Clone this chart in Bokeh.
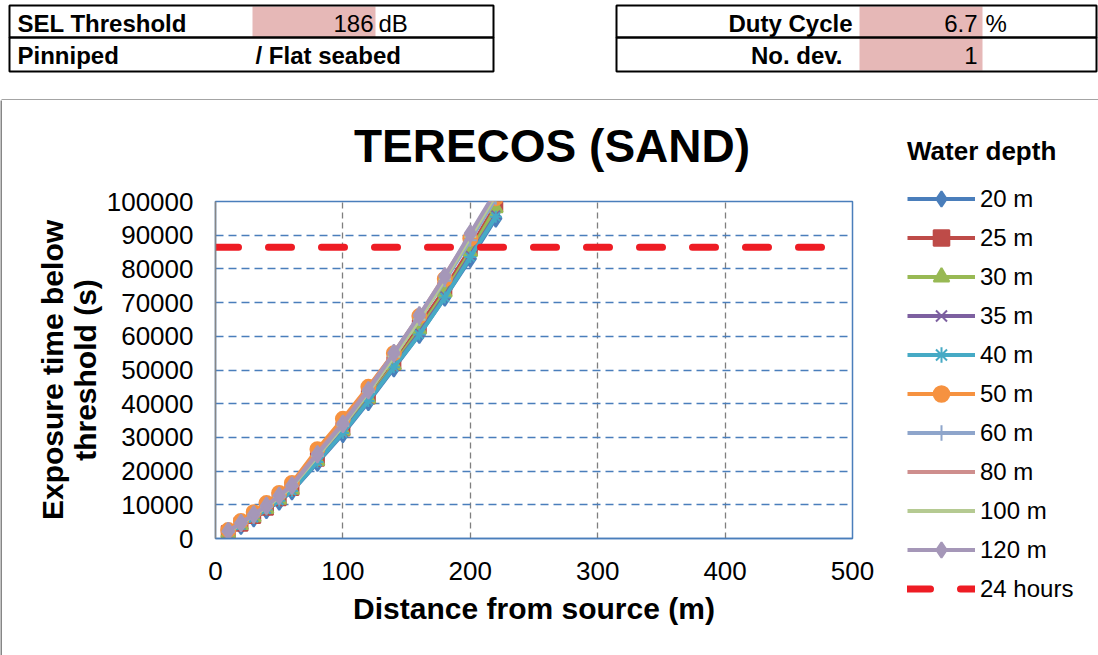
from bokeh.plotting import figure
from bokeh.layouts import column, row
from bokeh.models import (Range1d, FixedTicker, NumeralTickFormatter, Legend, LegendItem)
from bokeh.core.properties import value
from bokeh.embed import file_html
from bokeh.resources import INLINE

# ---------------- data ----------------
distance = [10, 20, 30, 40, 50, 60, 80, 100, 120, 140, 160, 180, 200, 220]

t_20m = [1500, 3800, 6000, 8500, 11000, 14000, 22500, 31000, 40500, 50500, 60500, 71500, 83000, 95000]
t_25m = [1800, 4200, 6500, 9000, 11800, 14800, 23500, 32500, 42000, 52000, 63000, 74000, 86000, 99000]
t_30m = [1700, 4000, 6300, 8800, 11500, 14500, 23000, 32000, 41500, 51500, 62000, 73000, 85000, 98000]
t_35m = [1600, 3900, 6200, 8600, 11200, 14200, 22800, 31500, 41000, 51000, 61000, 72000, 84000, 96000]
t_40m = [1600, 3900, 6100, 8600, 11200, 14100, 22700, 31300, 40800, 50800, 60500, 71500, 83500, 95500]
t_50m = [2500, 5200, 7800, 10500, 13500, 16500, 26500, 35500, 45000, 55000, 66000, 77000, 89000, 101000]
t_60m = [2000, 4500, 7000, 9500, 12500, 15500, 24500, 33500, 43500, 54000, 65000, 76500, 88500, 101000]
t_80m = [2200, 4700, 7200, 9800, 12800, 16000, 25500, 34500, 44500, 55000, 66000, 78000, 90000, 102000]
t_100m = [2000, 4400, 6900, 9400, 12300, 15400, 24500, 33500, 43500, 54000, 65000, 77000, 89500, 102000]
t_120m = [2200, 4600, 7100, 9700, 12700, 15700, 25000, 34000, 44000, 55000, 66200, 77800, 90500, 103000]

depth_labels = ["20 m", "25 m", "30 m", "35 m", "40 m", "50 m", "60 m", "80 m", "100 m", "120 m"]
series = [t_20m, t_25m, t_30m, t_35m, t_40m, t_50m, t_60m, t_80m, t_100m, t_120m]

day_x = [0, 480]
day_y = [86400, 86400]
day_label = "24 hours"

x_ticks = [0, 100, 200, 300, 400, 500]
y_ticks = [0, 10000, 20000, 30000, 40000, 50000, 60000, 70000, 80000, 90000, 100000]

chart_title = "TERECOS (SAND)"
sel_threshold = 186
duty_cycle = 6.7
no_dev = 1
species = "Pinniped"
seabed = "/ Flat seabed"

# ---------------- styles ----------------
colors = ["#4A7EBB", "#BE4B48", "#98B954", "#7D60A0", "#46AAC5",
          "#F69240", "#8EA5CB", "#CE8E8D", "#B5CA92", "#A597B8"]
markers = ["diamond", "square", "triangle", "x", "asterisk",
           "circle", "cross", "dash", "dash", "diamond"]
msizes = [17, 13, 14, 12, 12, 14, 13, 12, 12, 17]
DAY_STYLE = dict(line_color="#EE1C24", line_width=7, line_dash="23 30", line_cap="round")

FONT = "Liberation Sans"
BORDER = "#868686"


def bare(fig):
    fig.grid.visible = False
    fig.outline_line_color = None
    fig.min_border_left = 0
    fig.min_border_right = 0
    fig.min_border_top = 0
    fig.min_border_bottom = 0
    fig.background_fill_color = "white"
    fig.border_fill_color = "white"


# ---------------- top strip: parameter tables ----------------
top = figure(width=1098, height=100, output_backend="svg", toolbar_location=None,
             x_range=Range1d(0, 1098), y_range=Range1d(100, 0),
             x_axis_location=None, y_axis_location=None)
bare(top)

top.quad(left=[252, 859], right=[375, 982], top=[6, 6], bottom=[37, 70],
         fill_color="#E6B8B7", line_color=None)
top.quad(left=[9, 9, 616, 616], right=[493, 493, 1096, 1096],
         top=[5, 37, 5, 37], bottom=[37, 71, 37, 71],
         fill_alpha=0, line_color="black", line_width=2)
top.line([1, 1098], [99.5, 99.5], line_color=BORDER, line_width=1.5)
top.line([1, 1], [99.5, 100], line_color=BORDER, line_width=1.5)

txt = dict(text_font=value(FONT), text_font_size="24px", text_color="black",
           text_baseline="alphabetic")
r1, r2 = 23, 55
top.text(x=[17, 17, 255], y=[r1, r2, r2], text=["SEL Threshold", species, seabed],
         text_font_style="bold", text_align="left", **txt)
top.text(x=[852, 842], y=[r1, r2], text=["Duty Cycle", "No. dev."],
         text_font_style="bold", text_align="right", **txt)
top.text(x=[373, 977, 977], y=[r1, r1, r2],
         text=[str(sel_threshold), str(duty_cycle), str(no_dev)],
         text_align="right", **txt)
top.text(x=[378, 985], y=[r1, r1], text=["dB", "%"], text_align="left", **txt)

# ---------------- left border strip ----------------
strip = figure(width=2, height=555, output_backend="svg", toolbar_location=None,
               x_axis_location=None, y_axis_location=None)
bare(strip)
strip.background_fill_color = BORDER
strip.border_fill_color = BORDER

# ---------------- chart title (frame is aligned with the chart's frame) ----------------
tf = figure(width=880, height=80, output_backend="svg", toolbar_location=None,
            x_range=Range1d(215, 852), y_range=Range1d(180, 100),
            x_axis_location=None, y_axis_location=None)
bare(tf)
tf.text(x=[551.5], y=[145.5], text=[chart_title], text_font=value(FONT),
        text_font_size="46px", text_font_style="bold", text_color="black",
        text_align="center", text_baseline="alphabetic")

# ---------------- chart ----------------
p = figure(width=880, height=475, output_backend="svg", toolbar_location=None,
           x_range=Range1d(0, 500), y_range=Range1d(0, 100000),
           min_border_left=213, min_border_right=30,
           min_border_top=21, min_border_bottom=117)
p.title = None
p.background_fill_color = "white"
p.border_fill_color = "white"
p.outline_line_color = "#4A7EBB"
p.outline_line_width = 1.5

# axes
p.xaxis.ticker = FixedTicker(ticks=x_ticks)
p.yaxis.ticker = FixedTicker(ticks=y_ticks)
p.yaxis.formatter = NumeralTickFormatter(format="0")
for ax in (p.xaxis[0], p.yaxis[0]):
    ax.major_label_text_font = FONT
    ax.major_label_text_font_size = "26px"
    ax.major_label_text_color = "black"
    ax.major_tick_in = 0
    ax.major_tick_out = 0
    ax.minor_tick_in = 0
    ax.minor_tick_out = 0
    ax.axis_label_text_font = FONT
    ax.axis_label_text_font_style = "bold"
    ax.axis_label_text_color = "black"
p.xaxis.axis_line_color = "#4A7EBB"
p.xaxis.axis_line_width = 1.5
p.yaxis.axis_line_color = BORDER
p.yaxis.axis_line_width = 1.5
p.xaxis.major_label_standoff = 23
p.yaxis.major_label_standoff = 22
p.xaxis.axis_label = "Distance from source (m)"
p.xaxis.axis_label_text_font_size = "30px"
p.xaxis.axis_label_standoff = 9
p.yaxis.axis_label = "Exposure time below\nthreshold (s)"
p.yaxis.axis_label_text_font_size = "30px"
p.yaxis.axis_label_text_line_height = 1.0
p.yaxis.axis_label_standoff = 2

# grids
p.xgrid.grid_line_color = "#7F7F7F"
p.xgrid.grid_line_dash = "6 4"
p.xgrid.grid_line_width = 1.3
p.ygrid.grid_line_color = "#4A7EBB"
p.ygrid.grid_line_dash = "8 5"
p.ygrid.grid_line_width = 1.3

# series
for vals, c, m, s in zip(series, colors, markers, msizes):
    p.line(distance, vals, line_color=c, line_width=4)
    p.scatter(distance, vals, marker=m, size=s, fill_color=c, line_color=c, line_width=2)
p.line(day_x, day_y, **DAY_STYLE)

# ---------------- legend panel (right) ----------------
# the legend lives in its own small figure so it is not clipped by the plot frame;
# its renderers reuse the same data but lie outside this figure's visible range
lf = figure(width=216, height=555, output_backend="svg", toolbar_location=None,
            x_range=Range1d(-2, -1), y_range=Range1d(-2, -1),
            x_axis_location=None, y_axis_location=None)
bare(lf)

items = []
for lab, vals, c, m in zip(depth_labels, series, colors, markers):
    rl = lf.line(distance, vals, line_color=c, line_width=4)
    rs = lf.scatter(distance, vals, marker=m, fill_color=c, line_color=c, line_width=2)
    items.append(LegendItem(label=lab, renderers=[rl, rs]))
rd = lf.line(day_x, day_y, **DAY_STYLE)
items.append(LegendItem(label=day_label, renderers=[rd]))

legend = Legend(items=items, title="Water depth", location=(25, 47))
legend.label_text_font = FONT
legend.label_text_font_size = "24px"
legend.label_text_color = "black"
legend.title_text_font = FONT
legend.title_text_font_size = "26px"
legend.title_text_font_style = "bold"
legend.title_text_color = "black"
legend.title_standoff = 12
legend.glyph_width = 68
legend.glyph_height = 39
legend.label_height = 39
legend.spacing = 0
legend.padding = 0
legend.margin = 0
legend.label_standoff = 5
legend.border_line_color = None
legend.background_fill_alpha = 0
lf.add_layout(legend)

layout = column(top, row(strip, column(tf, p), column(lf)))
open("out.html", "w").write(file_html(layout, INLINE))
